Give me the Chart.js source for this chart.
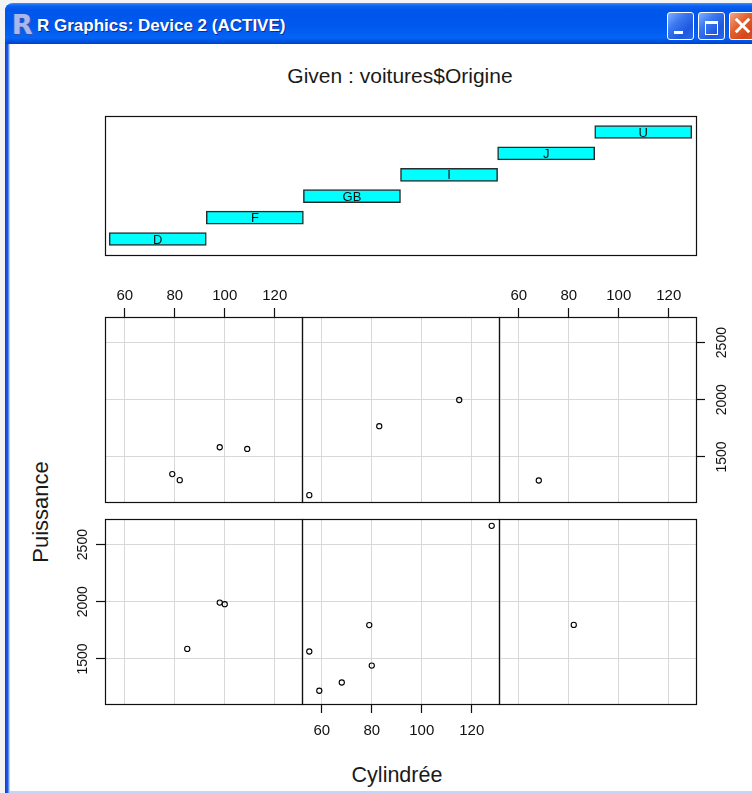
<!DOCTYPE html>
<html>
<head>
<meta charset="utf-8">
<script src="https://cdn.jsdelivr.net/npm/chart.js@4.4.1/dist/chart.umd.min.js"></script>
<style>
  html, body { margin:0; padding:0; width:752px; height:793px; overflow:hidden; background:#f4f4f4; font-family:"Liberation Sans", Arial, sans-serif; }
  #frame { position:absolute; left:5px; top:3px; width:780px; height:800px; background:linear-gradient(90deg,#0a3fd0 0px,#1a5cf0 3px,#a9c3f3 4px,#cfdcf6 5px); border-radius:8px 8px 0 0; }
  #titlebar { position:absolute; left:5px; top:3px; width:780px; height:41px; border-radius:8px 8px 0 0;
    background:linear-gradient(180deg,#3d8cff 0%,#0a60f0 7%,#0056eb 18%,#0058ee 55%,#0463f5 85%,#0050dc 94%,#0040c8 100%); }
  #client { position:absolute; left:10px; top:44px; width:780px; height:747px; background:#ffffff; }
  #bottomline { position:absolute; left:10px; top:791px; width:780px; height:2px; background:#c4d5f6; }
  #ricon { position:absolute; left:12px; top:9px; font:bold 27px "DejaVu Sans", sans-serif; color:#a8b8ea; text-shadow:1px 1px 0 #3a52a8, -1px 0 0 #5a72c0; }
  #title { position:absolute; left:37px; top:17px; font:bold 17px "Liberation Sans", Arial, sans-serif; line-height:17px; color:#fff; text-shadow:1px 1px 0 #0b2a9c; white-space:nowrap; }
  .btn { position:absolute; top:12px; width:25px; height:26px; border:1px solid #fff; border-radius:3px; }
  .blue { background:linear-gradient(135deg,#7fb0ff 0%,#3b78f0 35%,#1f58e0 70%,#2a66ea 100%); }
  .red { background:linear-gradient(135deg,#f5a88a 0%,#e2622f 40%,#d4471a 75%,#d85a2a 100%); }
  #bmin { left:667px; } #bmax { left:698px; } #bclose { left:729px; }
  #bmin i { position:absolute; left:6px; top:18px; width:9px; height:3px; background:#fff; }
  #bmax i { position:absolute; left:6px; top:8px; width:11px; height:10px; border:1px solid #fff; border-top-width:3px; }
  #bclose i, #bclose b { position:absolute; left:3px; top:11px; width:19px; height:3px; background:#fff; }
  #bclose i { transform:rotate(45deg); } #bclose b { transform:rotate(-45deg); }
  canvas { position:absolute; }
  .lbl { position:absolute; white-space:nowrap; color:#1a1a1a; font-family:"Liberation Sans", Arial, sans-serif; font-size:21px; line-height:21px; transform:translate(-50%,-50%); }
</style>
</head>
<body>
<div id="frame"></div>
<div id="titlebar"></div>
<div id="client"></div>
<div id="bottomline"></div>
<div id="ricon">R</div>
<div id="title">R Graphics: Device 2 (ACTIVE)</div>
<div class="btn blue" id="bmin"><i></i></div>
<div class="btn blue" id="bmax"><i></i></div>
<div class="btn red" id="bclose"><i></i><b></b></div>

<div class="lbl" id="givenTitle" style="left:400px; top:75px;">Given : voitures$Origine</div>
<div class="lbl" id="xTitle" style="left:397px; top:775px; font-size:21.5px;">Cylindrée</div>
<div class="lbl" id="yTitle" style="left:40px; top:512px; font-size:22px; transform:translate(-50%,-50%) rotate(-90deg);">Puissance</div>

<canvas id="given"></canvas>
<canvas id="pD"></canvas><canvas id="pF"></canvas><canvas id="pGB"></canvas>
<canvas id="pI"></canvas><canvas id="pJ"></canvas><canvas id="pU"></canvas>

<script>
// ---------------- data ----------------
const originLevels = ['D', 'F', 'GB', 'I', 'J', 'U'];
const intervalStart = [0.5, 1.5, 2.5, 3.5, 4.5, 5.5];
const intervalEnd   = [1.5, 2.5, 3.5, 4.5, 5.5, 6.5];

const xTicks = [60, 80, 100, 120];
const yTicks = [1500, 2000, 2500];

// x = "Cylindrée", y = "Puissance" (axis labels as printed on the chart)
const cylindreeD  = [85, 98, 100];
const puissanceD  = [1588, 1993, 1979];
const cylindreeF  = [68, 59, 79, 55, 128, 80];
const puissanceF  = [1294, 1222, 1796, 1565, 2664, 1442];
const cylindreeGB = [82];
const puissanceGB = [1798];
const cylindreeI  = [79, 98, 82, 109];
const puissanceI  = [1350, 1585, 1297, 1570];
const cylindreeJ  = [55, 115, 83];
const puissanceJ  = [1166, 1998, 1769];
const cylindreeU  = [68];
const puissanceU  = [1294];

// ---------------- helpers ----------------
const allX = [].concat(cylindreeD, cylindreeF, cylindreeGB, cylindreeI, cylindreeJ, cylindreeU);
const allY = [].concat(puissanceD, puissanceF, puissanceGB, puissanceI, puissanceJ, puissanceU);
function extRange(a) { const lo = Math.min(...a), hi = Math.max(...a), d = (hi - lo) * 0.04; return [lo - d, hi + d]; }
const xR = extRange(allX), yR = extRange(allY);

const FONT = '"Liberation Sans", Arial, sans-serif';
const framePlugin = {
  id: 'panelFrame',
  afterDatasetsDraw(chart) {
    const { ctx, chartArea: a } = chart;
    ctx.save();
    ctx.strokeStyle = '#111';
    ctx.lineWidth = 1.2;
    ctx.strokeRect(a.left + 0.5, a.top + 0.5, a.right - a.left, a.bottom - a.top);
    ctx.restore();
  }
};

const M = 42;
const colLeft = [105, 302, 499];
const panelW = 197;
const rowTop = { upper: 317, lower: 519 };
const panelH = 185;

function place(canvas, left, top, w, h) {
  canvas.width = w; canvas.height = h;
  canvas.style.left = left + 'px'; canvas.style.top = top + 'px';
  canvas.style.width = w + 'px'; canvas.style.height = h + 'px';
}

function makePanel(id, col, row, xs, ys, o) {
  const cv = document.getElementById(id);
  const left = colLeft[col], top = rowTop[row];
  place(cv, left - M, top - M, panelW + 2 * M, panelH + 2 * M);
  const xPos = o.xPos || 'bottom';
  const yPos = o.yPos || 'left';
  new Chart(cv.getContext('2d'), {
    type: 'scatter',
    data: { datasets: [{
      data: xs.map((x, i) => ({ x: x, y: ys[i] })),
      pointRadius: 2.6, pointHoverRadius: 2.6, pointBorderWidth: 1.1,
      pointBorderColor: '#000', pointBackgroundColor: 'rgba(0,0,0,0)'
    }] },
    options: {
      responsive: false, animation: false, events: [],
      layout: { padding: {
        left: yPos === 'left' ? 0 : M, right: yPos === 'right' ? 0 : M,
        top: xPos === 'top' ? 0 : M, bottom: xPos === 'bottom' ? 0 : M } },
      plugins: { legend: { display: false }, tooltip: { enabled: false } },
      scales: {
        x: {
          type: 'linear', position: xPos, min: xR[0], max: xR[1], bounds: 'data',
          afterBuildTicks: s => { s.ticks = xTicks.map(v => ({ value: v })); },
          afterFit: s => { s.height = M; },
          border: { display: false },
          grid: { color: '#d8d8d8', lineWidth: 1, drawTicks: !!o.xLabels, tickLength: 9, tickColor: '#111', tickWidth: 1.2 },
          ticks: { display: !!o.xLabels, autoSkip: false, maxRotation: 0, padding: o.xPad || 0,
                   callback: v => String(v),
                   color: '#111', font: { family: FONT, size: 15 } }
        },
        y: {
          type: 'linear', position: yPos, min: yR[0], max: yR[1], bounds: 'data',
          afterBuildTicks: s => { s.ticks = yTicks.map(v => ({ value: v })); },
          afterFit: s => { s.width = M; },
          border: { display: false },
          grid: { color: '#d8d8d8', lineWidth: 1, drawTicks: !!o.yLabels, tickLength: 9, tickColor: '#111', tickWidth: 1.2 },
          ticks: { display: !!o.yLabels, autoSkip: false, minRotation: 90, maxRotation: 90, crossAlign: 'center',
                   callback: v => String(v),
                   padding: o.yPad || 0, color: '#111', font: { family: FONT, size: 14 } }
        }
      }
    },
    plugins: [framePlugin]
  });
}

// lower row: D, F, GB ; upper row: I, J, U
makePanel('pD',  0, 'lower', cylindreeD,  puissanceD,  { yLabels: true, yPos: 'left', yPad: -3 });
makePanel('pF',  1, 'lower', cylindreeF,  puissanceF,  { xLabels: true, xPos: 'bottom', xPad: 9 });
makePanel('pGB', 2, 'lower', cylindreeGB, puissanceGB, {});
makePanel('pI',  0, 'upper', cylindreeI,  puissanceI,  { xLabels: true, xPos: 'top', xPad: 3.5 });
makePanel('pJ',  1, 'upper', cylindreeJ,  puissanceJ,  {});
makePanel('pU',  2, 'upper', cylindreeU,  puissanceU,  { xLabels: true, xPos: 'top', xPad: 3.5, yLabels: true, yPos: 'right', yPad: 1.4 });

// ---------------- given panel ----------------
const labelPlugin = {
  id: 'barLabels',
  afterDatasetsDraw(chart) {
    const ctx = chart.ctx;
    const meta = chart.getDatasetMeta(0);
    ctx.save();
    ctx.fillStyle = '#111';
    ctx.font = '13px ' + FONT;
    ctx.textAlign = 'center';
    ctx.textBaseline = 'middle';
    meta.data.forEach((bar, i) => {
      ctx.fillText(originLevels[i], (bar.x + bar.base) / 2, bar.y + 1);
    });
    ctx.restore();
  }
};
(function () {
  const cv = document.getElementById('given');
  const P = 6;
  const gl = 105, gt = 116, gw = 591, gh = 139;
  place(cv, gl - P, gt - P, gw + 2 * P, gh + 2 * P);
  const n = originLevels.length;
  const pad = (intervalEnd[n - 1] - intervalStart[0]) * 0.0072;
  new Chart(cv.getContext('2d'), {
    type: 'bar',
    data: { datasets: [{
      data: originLevels.map((l, i) => ({ x: [intervalStart[i], intervalEnd[i]], y: i + 1 })),
      backgroundColor: '#00ffff', borderColor: '#2b2b2b', borderWidth: 1.5, borderSkipped: false,
      barThickness: 13
    }] },
    options: {
      indexAxis: 'y', responsive: false, animation: false, events: [],
      layout: { padding: P },
      plugins: { legend: { display: false }, tooltip: { enabled: false } },
      scales: {
        x: { type: 'linear', min: intervalStart[0] - pad, max: intervalEnd[n - 1] + pad, display: false },
        y: { type: 'linear', offset: false, min: 0.25, max: n + 0.75, display: false }
      }
    },
    plugins: [framePlugin, labelPlugin]
  });
})();
</script>
</body>
</html>
